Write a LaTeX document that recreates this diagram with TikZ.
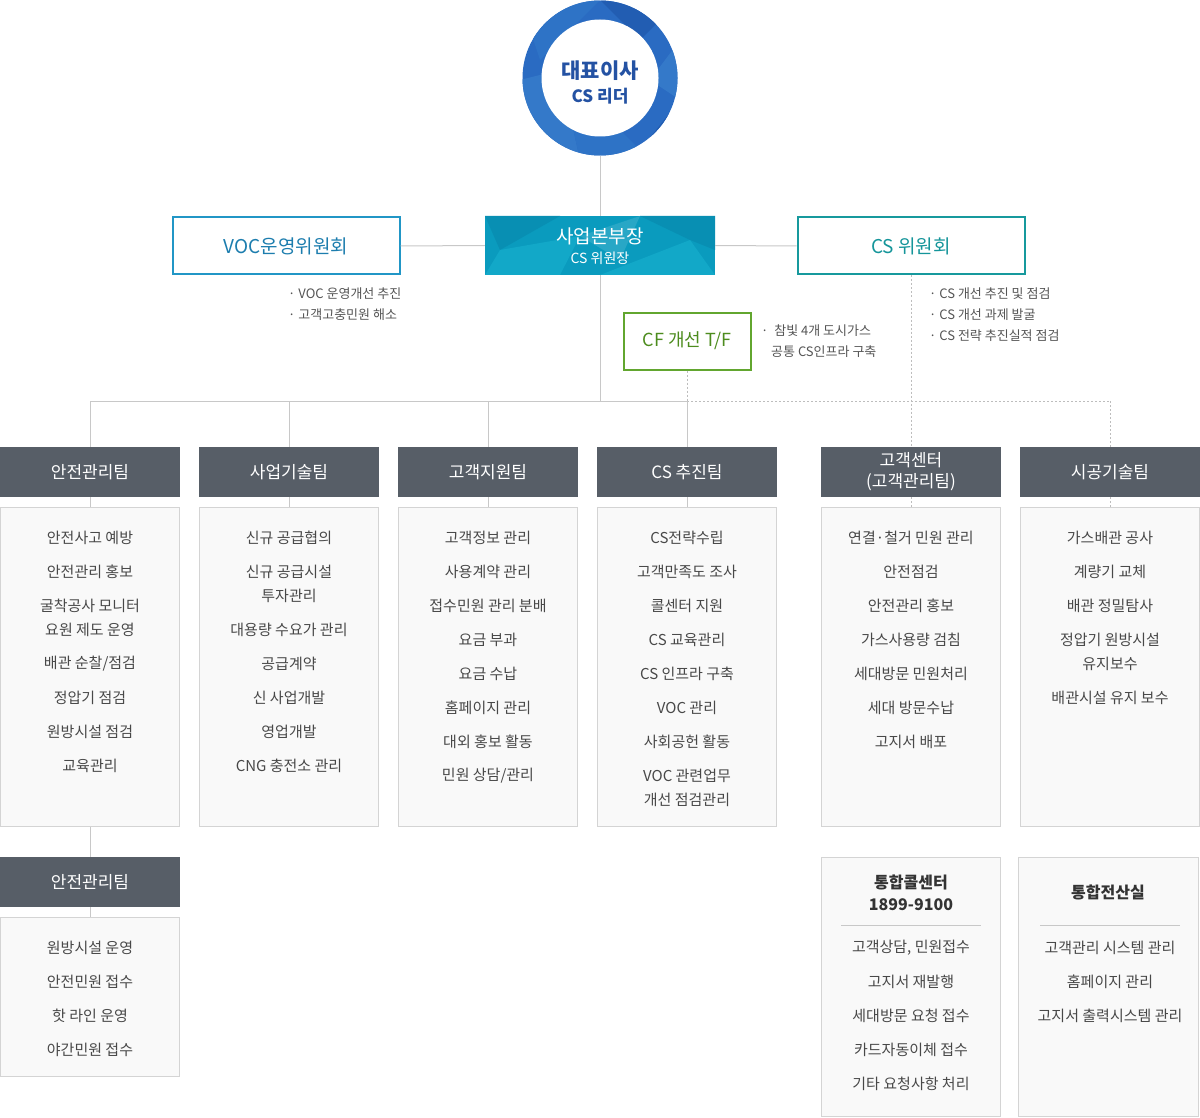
\documentclass[tikz,border=0pt]{standalone}
\usepackage{fontspec}
\setmainfont{Noto Sans CJK KR}
\definecolor{hdrc}{HTML}{575E67}
\definecolor{cbord}{HTML}{D4D4D4}
\definecolor{cfill}{HTML}{F9F9F9}
\definecolor{txt}{HTML}{484848}
\definecolor{notec}{HTML}{555555}
\definecolor{linec}{HTML}{C8C8C8}
\definecolor{dotc}{HTML}{BDBDBD}
\definecolor{ringA}{HTML}{2A6BC2}
\definecolor{ringB}{HTML}{3479C9}
\definecolor{ringC}{HTML}{225DB2}
\definecolor{ringD}{HTML}{2E73C6}
\definecolor{ceotxt}{HTML}{2452A3}
\definecolor{tealA}{HTML}{0A9BBE}
\definecolor{tealB}{HTML}{12A8C8}
\definecolor{tealC}{HTML}{088FB3}
\definecolor{vocc}{HTML}{2196C6}
\definecolor{voct}{HTML}{1C7DAE}
\definecolor{csc}{HTML}{17999D}
\definecolor{cst}{HTML}{14959A}
\definecolor{cfc}{HTML}{62A62F}
\definecolor{cft}{HTML}{4D8C1E}
\tikzset{
 hdr/.style={fill=hdrc, text=white, minimum width=180pt, minimum height=50pt, inner sep=0pt, font=\fontsize{17}{22}\selectfont, align=center},
 cbox/.style={draw=cbord, fill=cfill, line width=1pt, minimum width=179pt, inner sep=0pt, anchor=north},
 itm/.style={text=txt, font=\fontsize{15}{24}\selectfont, align=center, inner sep=0pt},
 note/.style={text=notec, font=\fontsize{13}{21}\selectfont, anchor=west, inner sep=0pt},
 conn/.style={draw=linec, line width=1pt},
 dconn/.style={draw=dotc, line width=1pt, dash pattern=on 2pt off 2pt},
 topbox/.style={fill=white, line width=2pt, minimum width=227pt, minimum height=57pt, inner sep=0pt, font=\fontsize{19}{22}\selectfont},
}
\begin{document}
\begin{tikzpicture}[x=1pt,y=-1pt]
\useasboundingbox[fill=white] (0,0) rectangle (1200,1118);
% coordinates for junctions
\coordinate (j0) at (600,401);
\coordinate (jL) at (90,401);
\coordinate (j2) at (289,401);
\coordinate (j3) at (488,401);
\coordinate (j4) at (687,401);
\coordinate (j6) at (1110,401);

% CEO ring
\node[circle, minimum size=155pt, inner sep=0pt] (ceo) at (600,78) {};
\begin{scope}
\clip (600,78) circle (77.5pt);
\fill[ringA] (520,0) rectangle (680,160);
\fill[ringB] (520,80) -- (560,70) -- (580,160) -- (520,160) -- cycle;
\fill[ringD] (560,70) -- (640,150) -- (580,160) -- cycle;
\fill[ringC] (640,150) -- (680,100) -- (680,160) -- cycle;
\fill[ringC] (600,0) -- (680,0) -- (640,40) -- cycle;
\fill[ringD] (520,0) -- (600,0) -- (540,60) -- cycle;
\fill[ringB] (680,40) -- (680,100) -- (650,80) -- cycle;
\end{scope}
\fill[white] (600,78) circle (58.5pt);
\node[text=ceotxt, inner sep=0pt, font=\fontsize{21}{24}\selectfont\bfseries] (ceot1) at (600,71) {대표이사};
\node[text=ceotxt, inner sep=0pt, font=\fontsize{17}{20}\selectfont\bfseries] (ceot2) at (600,96) {CS 리더};

% main vertical line
\draw[conn] (ceo.south) -- (j0);

% top row
\node[minimum width=230pt, minimum height=59pt, inner sep=0pt] (boss) at (600,245.5) {};
\begin{scope}
\clip (485,216) rectangle (715,275);
\fill[tealA] (485,216) rectangle (715,275);
\fill[tealC] (485,216) -- (560,216) -- (500,250) -- cycle;
\fill[tealB] (500,250) -- (580,236) -- (560,275) -- (485,275) -- cycle;
\fill[tealC] (640,216) -- (715,216) -- (715,250) -- (690,240) -- cycle;
\fill[tealB] (600,275) -- (690,240) -- (715,275) -- cycle;
\fill[tealA!88!white] (580,236) -- (640,216) -- (620,260) -- cycle;
\end{scope}
\node[text=white, inner sep=0pt, font=\fontsize{19}{22}\selectfont] (bosst1) at (600,236) {사업본부장};
\node[text=white, inner sep=0pt, font=\fontsize{14}{16}\selectfont] (bosst2) at (600,258) {CS 위원장};

\node[topbox, draw=vocc, text=voct] (voc) at (286,246) {VOC운영위원회};
\node[topbox, draw=csc, text=cst] (csw) at (911,246) {CS 위원회};
\draw[conn] (voc.east) -- (boss.west);
\draw[conn] (boss.east) -- (csw.west);

\node[fill=white, draw=cfc, line width=2pt, minimum width=127pt, minimum height=57pt, inner sep=0pt, text=cft, font=\fontsize{18}{22}\selectfont] (cf) at (687,341) {CF 개선 T/F};

% notes
\node[note] (n1) at (288,294) {· VOC 운영개선 추진};
\node[note] (n2) at (288,315) {· 고객고충민원 해소};
\node[note] (n3) at (761,331) {·\ \ 참빛 4개 도시가스};
\node[note] (n4) at (771,352) {공통 CS인프라 구축};
\node[note] (n5) at (929,294) {· CS 개선 추진 및 점검};
\node[note] (n6) at (929,315) {· CS 개선 과제 발굴};
\node[note] (n7) at (929,336) {· CS 전략 추진실적 점검};

% headers
\node[hdr] (h1) at (90,472) {안전관리팀};
\node[hdr] (h2) at (289,472) {사업기술팀};
\node[hdr] (h3) at (488,472) {고객지원팀};
\node[hdr] (h4) at (687,472) {CS 추진팀};
\node[hdr, font=\fontsize{17}{21}\selectfont] (h5) at (911,472) {고객센터\\(고객관리팀)};
\node[hdr] (h6) at (1110,472) {시공기술팀};
\node[hdr] (h7) at (90,882) {안전관리팀};

% connectors
\draw[conn] (jL) -- (j4);
\draw[dconn] (j4) -- (j6);
\draw[dconn] (cf.south) -- (j4);
\draw[conn] (jL) -- (h1.north);
\draw[conn] (j2) -- (h2.north);
\draw[conn] (j3) -- (h3.north);
\draw[conn] (j4) -- (h4.north);
\draw[dconn] (csw.south) -- (h5.north);
\draw[dconn] (j6) -- (h6.north);

% content boxes
\node[cbox, minimum height=319pt] (c1) at (90,507) {};
\node[cbox, minimum height=319pt] (c2) at (289,507) {};
\node[cbox, minimum height=319pt] (c3) at (488,507) {};
\node[cbox, minimum height=319pt] (c4) at (687,507) {};
\node[cbox, minimum height=319pt] (c5) at (911,507) {};
\node[cbox, minimum height=319pt] (c6) at (1110,507) {};
\node[cbox, minimum height=159pt] (c7) at (90,917) {};
\node[cbox, minimum height=259pt] (b1) at (911,857) {};
\node[cbox, minimum height=259pt, minimum width=180pt] (b2) at (1108,857) {};

\draw[conn] (h1.south) -- (c1.north);
\draw[conn] (h2.south) -- (c2.north);
\draw[conn] (h3.south) -- (c3.north);
\draw[conn] (h4.south) -- (c4.north);
\draw[dconn] (h5.south) -- (c5.north);
\draw[dconn] (h6.south) -- (c6.north);
\draw[conn] (c1.south) -- (h7.north);
\draw[conn] (h7.south) -- (c7.north);

% column 1
\node[itm] (a1) at (90,538) {안전사고 예방};
\node[itm] (a2) at (90,572) {안전관리 홍보};
\node[itm] (a3) at (90,618) {굴착공사 모니터\\요원 제도 운영};
\node[itm] (a4) at (90,664) {배관 순찰/점검};
\node[itm] (a5) at (90,698) {정압기 점검};
\node[itm] (a6) at (90,732) {원방시설 점검};
\node[itm] (a7) at (90,766) {교육관리};
% column 2
\node[itm] (b21) at (289,538) {신규 공급협의};
\node[itm] (b22) at (289,584) {신규 공급시설\\투자관리};
\node[itm] (b23) at (289,630) {대용량 수요가 관리};
\node[itm] (b24) at (289,664) {공급계약};
\node[itm] (b25) at (289,698) {신 사업개발};
\node[itm] (b26) at (289,732) {영업개발};
\node[itm] (b27) at (289,766) {CNG 충전소 관리};
% column 3
\node[itm] (d1) at (488,538) {고객정보 관리};
\node[itm] (d2) at (488,572) {사용계약 관리};
\node[itm] (d3) at (488,606) {접수민원 관리 분배};
\node[itm] (d4) at (488,640) {요금 부과};
\node[itm] (d5) at (488,674) {요금 수납};
\node[itm] (d6) at (488,708) {홈페이지 관리};
\node[itm] (d7) at (488,742) {대외 홍보 활동};
\node[itm] (d8) at (488,776) {민원 상담/관리};
% column 4
\node[itm] (e1) at (687,538) {CS전략수립};
\node[itm] (e2) at (687,572) {고객만족도 조사};
\node[itm] (e3) at (687,606) {콜센터 지원};
\node[itm] (e4) at (687,640) {CS 교육관리};
\node[itm] (e5) at (687,674) {CS 인프라 구축};
\node[itm] (e6) at (687,708) {VOC 관리};
\node[itm] (e7) at (687,742) {사회공헌 활동};
\node[itm] (e8) at (687,788) {VOC 관련업무\\개선 점검관리};
% column 5
\node[itm] (f1) at (911,538) {연결·철거 민원 관리};
\node[itm] (f2) at (911,572) {안전점검};
\node[itm] (f3) at (911,606) {안전관리 홍보};
\node[itm] (f4) at (911,640) {가스사용량 검침};
\node[itm] (f5) at (911,674) {세대방문 민원처리};
\node[itm] (f6) at (911,708) {세대 방문수납};
\node[itm] (f7) at (911,742) {고지서 배포};
% column 6
\node[itm] (g1) at (1110,538) {가스배관 공사};
\node[itm] (g2) at (1110,572) {계량기 교체};
\node[itm] (g3) at (1110,606) {배관 정밀탐사};
\node[itm] (g4) at (1110,652) {정압기 원방시설\\유지보수};
\node[itm] (g5) at (1110,698) {배관시설 유지 보수};
% bottom left
\node[itm] (k1) at (90,948) {원방시설 운영};
\node[itm] (k2) at (90,982) {안전민원 접수};
\node[itm] (k3) at (90,1016) {핫 라인 운영};
\node[itm] (k4) at (90,1050) {야간민원 접수};
% call center
\node[itm, text=black!80, font=\fontsize{16}{22}\selectfont\bfseries] (m0) at (911,893) {통합콜센터\\1899-9100};
\draw[conn] (841,925) -- (981,925);
\node[itm] (m1) at (911,948) {고객상담, 민원접수};
\node[itm] (m2) at (911,982) {고지서 재발행};
\node[itm] (m3) at (911,1016) {세대방문 요청 접수};
\node[itm] (m4) at (911,1050) {카드자동이체 접수};
\node[itm] (m5) at (911,1084) {기타 요청사항 처리};
% computer room
\node[itm, text=black!80, font=\fontsize{16}{22}\selectfont\bfseries] (p0) at (1108,892) {통합전산실};
\draw[conn] (1040,925) -- (1180,925);
\node[itm] (p1) at (1110,948) {고객관리 시스템 관리};
\node[itm] (p2) at (1110,982) {홈페이지 관리};
\node[itm] (p3) at (1110,1016) {고지서 출력시스템 관리};
\end{tikzpicture}
\end{document}
